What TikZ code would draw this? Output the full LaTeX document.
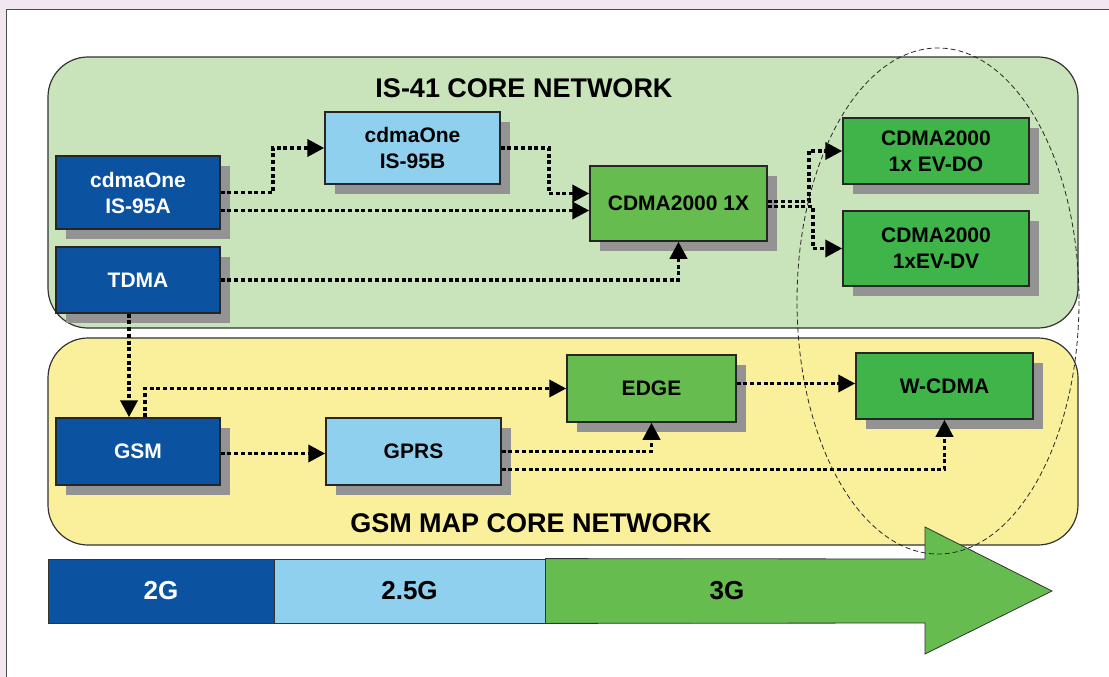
\documentclass[tikz,border=0pt]{standalone}
\usepackage{fontspec}
\setmainfont{Liberation Sans}
\usetikzlibrary{arrows.meta,shadows,calc}

\definecolor{bgpink}{HTML}{F2E6F0}
\definecolor{panelgreen}{HTML}{C9E3BA}
\definecolor{panelyellow}{HTML}{FAF09B}
\definecolor{darkblue}{HTML}{0B52A1}
\definecolor{lightblue}{HTML}{8FD0EE}
\definecolor{midgreen}{HTML}{66BC4F}
\definecolor{brightgreen}{HTML}{3FB549}
\definecolor{shadowgray}{HTML}{939393}

\tikzset{
  panel/.style={draw=black!80, line width=1.2pt, rounded corners=40pt, inner sep=0pt},
  netbox/.style={draw=black!85, line width=1.5pt, align=center, inner sep=0pt,
    font=\fontsize{21}{26}\selectfont\bfseries,
    drop shadow={shadow xshift=10pt, shadow yshift=-10pt, fill=shadowgray, opacity=1}},
  gen2/.style={netbox, fill=darkblue, text=white},
  gen25/.style={netbox, fill=lightblue},
  gen3/.style={netbox, fill=midgreen},
  gen3b/.style={netbox, fill=brightgreen},
  link/.style={line width=3.8pt, dash pattern=on 4pt off 2.7pt,
    -{Triangle[length=17pt,width=17pt]}},
  title/.style={font=\fontsize{27}{32}\selectfont\bfseries},
  genbar/.style={draw=black!80, line width=0.8pt, inner sep=0pt, minimum height=64pt,
    font=\fontsize{26}{30}\selectfont\bfseries},
  cloud/.style={draw=black!85, line width=0.8pt, dash pattern=on 5pt off 3pt}
}

\begin{document}
\begin{tikzpicture}[x=1pt,y=-1pt]

\useasboundingbox (0,0) rectangle (1109,677);
\fill[bgpink] (0,0) rectangle (1109,677);
\fill[white] (6,10) rectangle (1109,677);
\draw[black!70, line width=1pt] (6,677) -- (6,10) -- (1109,10);

% core network panels
\node[panel, fill=panelgreen, minimum width=1030pt, minimum height=271pt] (is41) at (563,192.5) {};
\node[panel, fill=panelyellow, minimum width=1030pt, minimum height=207pt] (gsmmap) at (563,441.5) {};
\node[title] (is41title) at (524,88) {IS-41 CORE NETWORK};
\node[title] (gsmmaptitle) at (531,523) {GSM MAP CORE NETWORK};

% IS-41 side
\node[gen2, minimum width=164pt, minimum height=73pt] (is95a) at (138,192.5) {cdmaOne\\IS-95A};
\node[gen2, minimum width=164pt, minimum height=66pt] (tdma) at (138,280) {TDMA};
\node[gen25, minimum width=175pt, minimum height=72pt] (is95b) at (412.5,148) {cdmaOne\\IS-95B};
\node[gen3, minimum width=177pt, minimum height=75pt] (cdma1x) at (678.5,203.5) {CDMA2000 1X};
\node[gen3b, minimum width=186pt, minimum height=66pt] (evdo) at (936,151) {CDMA2000\\1x EV-DO};
\node[gen3b, minimum width=186pt, minimum height=75pt] (evdv) at (936,248.5) {CDMA2000\\1xEV-DV};

% GSM side
\node[gen2, minimum width=164pt, minimum height=67pt] (gsm) at (138,451.5) {GSM};
\node[gen25, minimum width=175pt, minimum height=67pt] (gprs) at (413.5,451.5) {GPRS};
\node[gen3, minimum width=169pt, minimum height=67pt] (edge) at (651.5,388.5) {EDGE};
\node[gen3b, minimum width=177pt, minimum height=66pt] (wcdma) at (944.5,386) {W-CDMA};

% evolution paths
\draw[link] (is95a.east) -- ++(52,0) |- (is95b.west);
\draw[link] ([yshift=-18pt]is95a.east) -- ([yshift=-18pt]is95a.east -| cdma1x.west);
\draw[link] (is95b.east) -- ++(48,0) |- ([yshift=10pt]cdma1x.west);
\draw[link] (tdma.east) -| (cdma1x.south);
\draw[link] ([yshift=2pt]cdma1x.east) -- ++(41,0) |- (evdo.west);
\draw[link] ([yshift=-3pt]cdma1x.east) -- ++(45,0) |- (evdv.west);
\draw[link] ([xshift=-9pt]tdma.south) -- ([xshift=-9pt]tdma.south |- gsm.north);
\draw[link] ([xshift=7pt]gsm.north) |- (edge.west);
\draw[link] ([yshift=-2pt]gsm.east) -- ([yshift=-2pt]gsm.east -| gprs.west);
\draw[link] (gprs.east) -| (edge.south);
\draw[link] ([yshift=-18pt]gprs.east) -| (wcdma.south);
\draw[link] ([yshift=5pt]edge.east) -- ([yshift=5pt]edge.east -| wcdma.west);

% generation bar
\node[genbar, fill=darkblue, text=white, minimum width=226pt] (g2) at (161,591) {2G};
\node[genbar, fill=lightblue, minimum width=271pt] (g25) at (409.5,591) {2.5G};
\draw[draw=black!80, line width=0.8pt, fill=midgreen] (g25.north east) -- (925,559) -- (925,527)
  -- (1052,591) -- (925,654) -- (925,623) -- (g25.south east) -- cycle;
\node[font=\fontsize{26}{30}\selectfont\bfseries] (g3) at (727,591) {3G};

% 3G grouping
\draw[cloud] (938,301) ellipse [x radius=141, y radius=253];

\end{tikzpicture}
\end{document}
